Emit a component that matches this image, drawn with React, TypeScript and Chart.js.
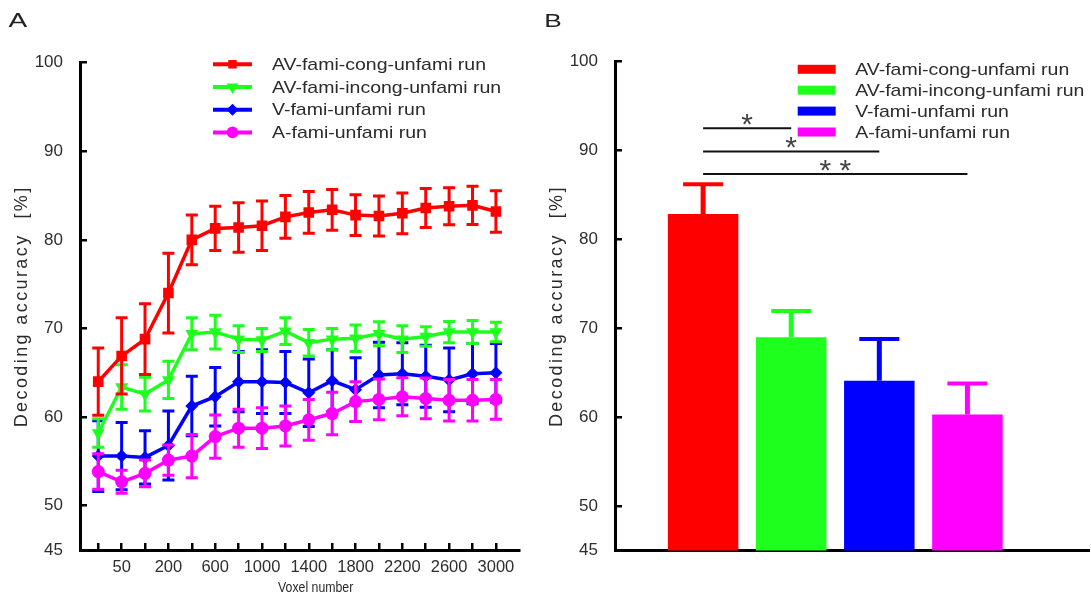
import React, { useEffect, useRef } from 'react';
import { Chart, registerables } from 'chart.js';

Chart.register(...registerables);

const FONT = '"Liberation Sans", Arial, sans-serif';
const TEXT = '#2b2b2b';

// ---------- Panel A data ----------
const voxelNumbers = [20, 50, 100, 200, 400, 600, 800, 1000, 1200, 1400, 1600, 1800, 2000, 2200, 2400, 2600, 2800, 3000];
const voxelTickLabels = ['', '50', '', '200', '', '600', '', '1000', '', '1400', '', '1800', '', '2200', '', '2600', '', '3000'];
const seriesNames = ['AV-fami-cong-unfami run', 'AV-fami-incong-unfami run', 'V-fami-unfami run', 'A-fami-unfami run'];
const seriesColors = ['#FF0000', '#1EFF1E', '#0000FF', '#FF00FF'];

const avCongMean = [64.0, 66.9, 68.8, 74.0, 80.0, 81.3, 81.4, 81.6, 82.6, 83.1, 83.4, 82.8, 82.7, 83.0, 83.6, 83.8, 83.9, 83.2];
const avCongErr = [3.8, 4.3, 4.0, 4.5, 2.8, 2.5, 2.8, 2.8, 2.4, 2.35, 2.3, 2.3, 2.25, 2.3, 2.2, 2.1, 2.15, 2.35];
const avIncongMean = [58.2, 63.4, 62.6, 64.2, 69.4, 69.6, 68.8, 68.7, 69.7, 68.4, 68.8, 68.9, 69.4, 68.8, 69.1, 69.6, 69.6, 69.6];
const avIncongErr = [1.6, 2.5, 1.9, 2.1, 1.8, 1.9, 1.5, 1.3, 1.5, 1.5, 1.2, 1.5, 1.35, 1.5, 1.1, 1.2, 1.3, 1.1];
const vMean = [55.6, 55.6, 55.45, 56.8, 61.25, 62.3, 64.0, 64.0, 63.9, 62.75, 64.1, 63.1, 64.75, 64.9, 64.6, 64.2, 64.9, 65.0];
const vErr = [4.0, 3.8, 3.0, 3.9, 3.35, 3.3, 3.4, 3.6, 3.5, 3.8, 3.5, 3.6, 3.7, 3.5, 3.5, 3.6, 3.4, 3.3];
const aMean = [53.85, 52.7, 53.65, 55.15, 55.6, 57.8, 58.75, 58.75, 59.0, 59.7, 60.4, 61.75, 62.0, 62.3, 62.1, 61.9, 61.9, 62.0];
const aErr = [2.0, 1.3, 1.5, 1.7, 2.45, 2.45, 2.15, 2.3, 2.25, 2.3, 2.4, 2.25, 2.3, 2.15, 2.3, 2.35, 2.35, 2.25];

const yTickValues = [45, 50, 60, 70, 80, 90, 100];

// ---------- Panel B data ----------
const barMeans = [82.85, 69.0, 64.1, 60.3];
const barErrs = [3.35, 2.95, 4.7, 3.5];
const sigFrom = [0, 0, 0];
const sigTo = [1, 2, 3];
const sigLevels = [92.5, 89.9, 87.35];
const sigLabels = ['*', '*', '* *'];

const markerStyles = ['square', 'triangleDown', 'diamond', 'circle'];

function drawText(
  ctx: CanvasRenderingContext2D,
  text: string,
  x: number,
  y: number,
  o: { size: number; color?: string; align?: CanvasTextAlign; baseline?: CanvasTextBaseline; scaleX?: number; rotate?: number; spacing?: number }
) {
  ctx.save();
  ctx.translate(x, y);
  if (o.rotate) ctx.rotate(o.rotate);
  if (o.scaleX) ctx.scale(o.scaleX, 1);
  ctx.font = `${o.size}px ${FONT}`;
  ctx.fillStyle = o.color || TEXT;
  ctx.textAlign = o.align || 'left';
  ctx.textBaseline = o.baseline || 'middle';
  if (o.spacing) (ctx as any).letterSpacing = `${o.spacing}px`;
  ctx.fillText(text, 0, 0);
  ctx.restore();
}

function drawMarker(ctx: CanvasRenderingContext2D, style: string, x: number, y: number, r: number, color: string) {
  ctx.save();
  ctx.fillStyle = color;
  ctx.beginPath();
  if (style === 'square') {
    const s = r * Math.SQRT1_2;
    ctx.rect(x - s, y - s, 2 * s, 2 * s);
  } else if (style === 'triangleDown') {
    ctx.moveTo(x, y + r);
    ctx.lineTo(x - r * 0.866, y - r * 0.5);
    ctx.lineTo(x + r * 0.866, y - r * 0.5);
    ctx.closePath();
  } else if (style === 'diamond') {
    ctx.moveTo(x, y - r);
    ctx.lineTo(x + r, y);
    ctx.lineTo(x, y + r);
    ctx.lineTo(x - r, y);
    ctx.closePath();
  } else {
    ctx.arc(x, y, r, 0, Math.PI * 2);
  }
  ctx.fill();
  ctx.restore();
}

const axisCommon = {
  grid: { drawOnChartArea: false, tickLength: -7, color: '#000', lineWidth: 2.5 },
  border: { color: '#000', width: 3 },
};

const yScale = (width: number) => ({
  type: 'linear',
  min: 45,
  max: 100,
  beginAtZero: false,
  afterBuildTicks: (s: any) => {
    s.ticks = yTickValues.map((v) => ({ value: v }));
  },
  ticks: { font: { family: FONT, size: 17 }, color: '#2e2e2e', padding: 24 },
  ...axisCommon,
  afterFit: (s: any) => {
    s.width = width;
  },
});

const panelAPlugin = {
  id: 'panelA',
  beforeDatasetDraw(chart: any, args: any) {
    const ds = chart.data.datasets[args.index];
    const errs: number[] = ds.errorBars;
    if (!errs) return;
    const yS = chart.scales.y;
    const ctx: CanvasRenderingContext2D = chart.ctx;
    ctx.save();
    ctx.strokeStyle = ds.borderColor;
    ctx.lineWidth = 3;
    args.meta.data.forEach((el: any, i: number) => {
      const v = ds.data[i].y;
      const top = yS.getPixelForValue(v + errs[i]);
      const bot = yS.getPixelForValue(v - errs[i]);
      const x = el.x;
      const cw = 6;
      ctx.beginPath();
      ctx.moveTo(x, top);
      ctx.lineTo(x, bot);
      ctx.moveTo(x - cw, top);
      ctx.lineTo(x + cw, top);
      ctx.moveTo(x - cw, bot);
      ctx.lineTo(x + cw, bot);
      ctx.stroke();
    });
    ctx.restore();
  },
  afterDraw(chart: any) {
    const ctx: CanvasRenderingContext2D = chart.ctx;
    const area = chart.chartArea;
    // legend
    const legendX0 = 213;
    const legendX1 = 252;
    const rowY0 = 64.3;
    const rowStep = 22.7;
    seriesNames.forEach((name, i) => {
      const y = rowY0 + i * rowStep;
      ctx.save();
      ctx.strokeStyle = seriesColors[i];
      ctx.lineWidth = 4;
      ctx.beginPath();
      ctx.moveTo(legendX0, y);
      ctx.lineTo(legendX1, y);
      ctx.stroke();
      ctx.restore();
      const rs = [6, 7, 6, 5.8];
      drawMarker(ctx, markerStyles[i], (legendX0 + legendX1) / 2, y, rs[i], seriesColors[i]);
      drawText(ctx, name, 272, y + 1, { size: 17, scaleX: 1.146 });
    });
    // axis titles
    drawText(ctx, 'Decoding accuracy  [%]', 22, (area.top + area.bottom) / 2, {
      size: 18,
      align: 'center',
      rotate: -Math.PI / 2,
      spacing: 2.4,
    });
    drawText(ctx, 'Voxel number', (area.left + area.right) / 2 + 16, 587.5, {
      size: 15,
      align: 'center',
      scaleX: 0.82,
    });
    drawText(ctx, 'A', 8.6, 27, { size: 20, baseline: 'alphabetic', scaleX: 1.4, color: '#222' });
  },
};

const panelBPlugin = {
  id: 'panelB',
  afterDatasetDraw(chart: any, args: any) {
    const ds = chart.data.datasets[args.index];
    const errs: number[] = ds.errorBars;
    if (!errs) return;
    const yS = chart.scales.y;
    const ctx: CanvasRenderingContext2D = chart.ctx;
    args.meta.data.forEach((el: any, i: number) => {
      const v = ds.data[i].y;
      const top = yS.getPixelForValue(v + errs[i]);
      const base = yS.getPixelForValue(v);
      const x = el.x;
      ctx.save();
      ctx.strokeStyle = seriesColors[i];
      ctx.lineWidth = 5;
      ctx.beginPath();
      ctx.moveTo(x, base);
      ctx.lineTo(x, top);
      ctx.stroke();
      ctx.lineWidth = 4;
      ctx.beginPath();
      ctx.moveTo(x - 20, top);
      ctx.lineTo(x + 20, top);
      ctx.stroke();
      ctx.restore();
    });
  },
  afterDraw(chart: any) {
    const ctx: CanvasRenderingContext2D = chart.ctx;
    const area = chart.chartArea;
    const xS = chart.scales.x;
    const yS = chart.scales.y;
    // significance lines
    sigLevels.forEach((lvl, i) => {
      const x0 = xS.getPixelForValue(sigFrom[i]);
      const x1 = xS.getPixelForValue(sigTo[i]);
      const y = yS.getPixelForValue(lvl);
      ctx.save();
      ctx.strokeStyle = '#111';
      ctx.lineWidth = 2;
      ctx.beginPath();
      ctx.moveTo(x0, y);
      ctx.lineTo(x1, y);
      ctx.stroke();
      ctx.font = `30px ${FONT}`;
      const m = ctx.measureText('*');
      const cy = y - 9;
      const baseline = cy + (m.actualBoundingBoxAscent - m.actualBoundingBoxDescent) / 2;
      ctx.fillStyle = '#444';
      ctx.textAlign = 'center';
      ctx.textBaseline = 'alphabetic';
      ctx.fillText(sigLabels[i], (x0 + x1) / 2, baseline);
      ctx.restore();
    });
    // legend
    const rowY0 = 69.3;
    const rowStep = 20.9;
    seriesNames.forEach((name, i) => {
      const y = rowY0 + i * rowStep;
      ctx.save();
      ctx.fillStyle = seriesColors[i];
      ctx.fillRect(257.7, y - 4.5, 38, 9);
      ctx.restore();
      drawText(ctx, name, 315.2, y + 1, { size: 17, scaleX: 1.146 });
    });
    drawText(ctx, 'Decoding accuracy  [%]', 17.5, (area.top + area.bottom) / 2, {
      size: 18,
      align: 'center',
      rotate: -Math.PI / 2,
      spacing: 2.4,
    });
    drawText(ctx, 'B', 4.2, 26.5, { size: 19, baseline: 'alphabetic', scaleX: 1.38, color: '#222' });
  },
};

function configA(): any {
  const means = [avCongMean, avIncongMean, vMean, aMean];
  const errs = [avCongErr, avIncongErr, vErr, aErr];
  const pointStyles = ['rect', 'triangle', 'rectRot', 'circle'];
  const rotations = [0, 180, 0, 0];
  const radii = [7.5, 7.5, 6.5, 6.5];
  const orders = [0, 1, 3, 2];
  return {
    type: 'line',
    data: {
      datasets: seriesNames.map((name, k) => ({
        label: name,
        data: means[k].map((v, i) => ({ x: i, y: v })),
        errorBars: errs[k],
        borderColor: seriesColors[k],
        backgroundColor: seriesColors[k],
        borderWidth: 3.5,
        tension: 0,
        pointStyle: pointStyles[k],
        pointRotation: rotations[k],
        pointRadius: radii[k],
        pointBorderWidth: 0,
        order: orders[k],
      })),
    },
    options: {
      animation: false,
      responsive: false,
      maintainAspectRatio: false,
      layout: { padding: { top: 62.7, right: 20.7, left: 0, bottom: 0 } },
      plugins: { legend: { display: false }, tooltip: { enabled: false } },
      scales: {
        x: {
          type: 'linear',
          min: -0.78,
          max: 18,
          offset: false,
          afterBuildTicks: (s: any) => {
            s.ticks = voxelNumbers.map((_, i) => ({ value: i }));
          },
          ticks: {
            callback: (v: any) => voxelTickLabels[v] ?? '',
            autoSkip: false,
            maxRotation: 0,
            minRotation: 0,
            font: { family: FONT, size: 16.5 },
            color: '#2e2e2e',
            padding: 15,
          },
          ...axisCommon,
          afterFit: (s: any) => {
            s.height = 47;
          },
        },
        y: yScale(80),
      },
    },
    plugins: [panelAPlugin],
  };
}

function configB(): any {
  return {
    type: 'bar',
    data: {
      datasets: [
        {
          label: 'Decoding accuracy',
          data: barMeans.map((v, i) => ({ x: i, y: v })),
          errorBars: barErrs,
          backgroundColor: seriesColors,
          borderWidth: 0,
          categoryPercentage: 1,
          barPercentage: 0.8,
        },
      ],
    },
    options: {
      animation: false,
      responsive: false,
      maintainAspectRatio: false,
      layout: { padding: { top: 61.7, right: 2, left: 0, bottom: 0 } },
      plugins: { legend: { display: false }, tooltip: { enabled: false } },
      scales: {
        x: {
          type: 'linear',
          min: -1,
          max: 4.38,
          offset: false,
          afterBuildTicks: (s: any) => {
            s.ticks = barMeans.map((_, i) => ({ value: i }));
          },
          ticks: { display: false },
          grid: { display: false, offset: false },
          border: { color: '#000', width: 3 },
          afterFit: (s: any) => {
            s.height = 46.5;
          },
        },
        y: yScale(75),
      },
    },
    plugins: [panelBPlugin],
  };
}

export default function App() {
  const refA = useRef<HTMLCanvasElement>(null);
  const refB = useRef<HTMLCanvasElement>(null);
  useEffect(() => {
    document.body.style.margin = '0';
    Chart.defaults.font.family = FONT;
    const a = new Chart(refA.current as HTMLCanvasElement, configA());
    const b = new Chart(refB.current as HTMLCanvasElement, configB());
    return () => {
      a.destroy();
      b.destroy();
    };
  }, []);
  return (
    <div style={{ position: 'relative', width: 1091, height: 597, background: '#fff' }}>
      <canvas ref={refA} width={540} height={597} style={{ position: 'absolute', left: 0, top: 0 }} />
      <canvas ref={refB} width={551} height={597} style={{ position: 'absolute', left: 540, top: 0 }} />
    </div>
  );
}
